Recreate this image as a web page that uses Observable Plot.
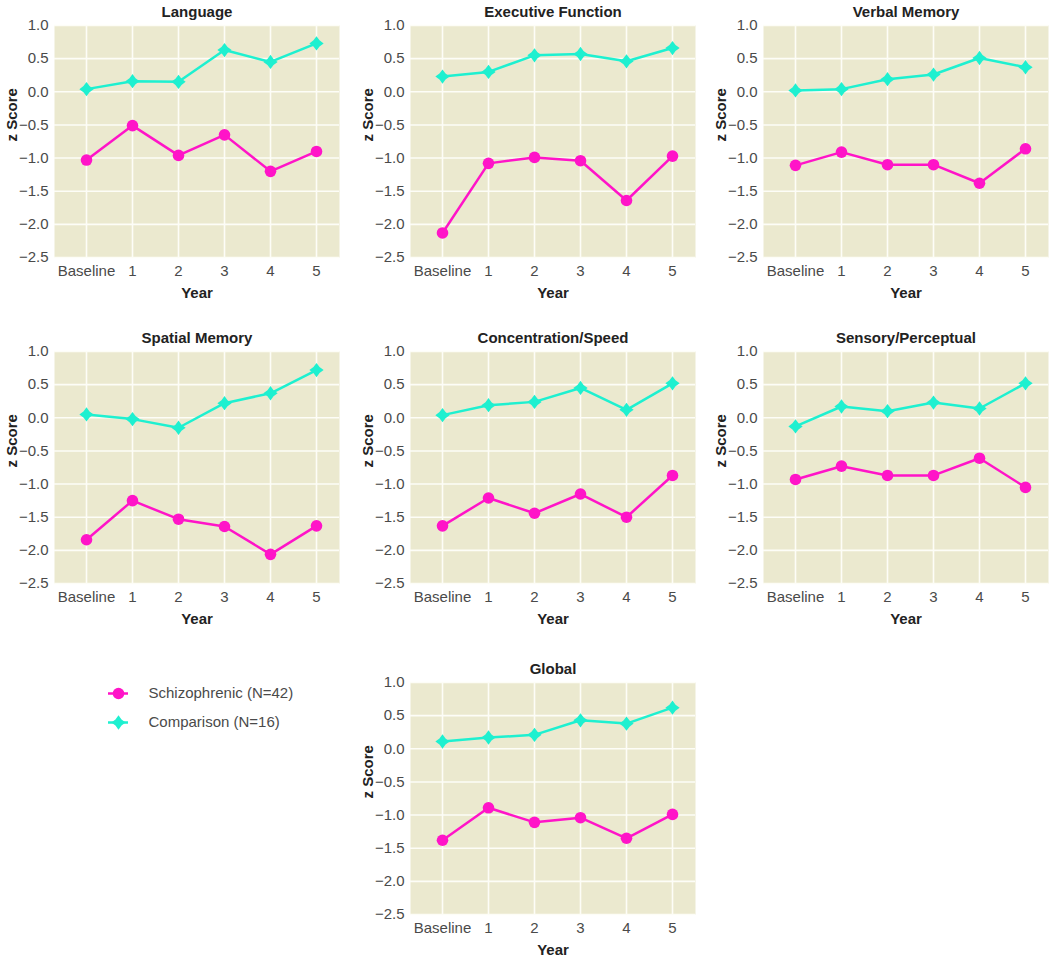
<!DOCTYPE html>
<html>
<head>
<meta charset="utf-8">
<script src="https://cdn.jsdelivr.net/npm/d3@7"></script>
<script src="https://cdn.jsdelivr.net/npm/@observablehq/plot@0.6"></script>
<style>
  html, body { margin: 0; padding: 0; background: #ffffff; }
  #root { position: relative; width: 1050px; height: 963px; overflow: hidden; font-family: "Liberation Sans", Arial, sans-serif; }
  .panel { position: absolute; width: 345px; }
  .panel svg { max-width: none !important; }
</style>
</head>
<body>
<div id="root"></div>
<script>
// ---------- data ----------
const years = ["Baseline", "1", "2", "3", "4", "5"];
const yTicks = [-2.5, -2.0, -1.5, -1.0, -0.5, 0.0, 0.5, 1.0];
const groups = ["Schizophrenic (N=42)", "Comparison (N=16)"];

const titles = ["Language", "Executive Function", "Verbal Memory", "Spatial Memory",
                "Concentration/Speed", "Sensory/Perceptual", "Global"];

const languageSchiz      = [-1.03, -0.51, -0.96, -0.65, -1.20, -0.90];
const languageComp       = [ 0.04,  0.16,  0.15,  0.63,  0.45,  0.73];
const executiveSchiz     = [-2.13, -1.08, -0.99, -1.04, -1.64, -0.97];
const executiveComp      = [ 0.23,  0.30,  0.55,  0.57,  0.46,  0.66];
const verbalSchiz        = [-1.11, -0.91, -1.10, -1.10, -1.38, -0.86];
const verbalComp         = [ 0.02,  0.04,  0.19,  0.26,  0.51,  0.37];
const spatialSchiz       = [-1.84, -1.25, -1.53, -1.64, -2.06, -1.63];
const spatialComp        = [ 0.05, -0.02, -0.15,  0.22,  0.37,  0.72];
const concentrationSchiz = [-1.63, -1.21, -1.44, -1.15, -1.50, -0.87];
const concentrationComp  = [ 0.04,  0.19,  0.24,  0.45,  0.12,  0.52];
const sensorySchiz       = [-0.93, -0.73, -0.87, -0.87, -0.61, -1.05];
const sensoryComp        = [-0.13,  0.17,  0.10,  0.23,  0.14,  0.52];
const globalSchiz        = [-1.38, -0.89, -1.11, -1.04, -1.35, -0.99];
const globalComp         = [ 0.11,  0.17,  0.21,  0.43,  0.38,  0.62];

const schizSeries = [languageSchiz, executiveSchiz, verbalSchiz, spatialSchiz, concentrationSchiz, sensorySchiz, globalSchiz];
const compSeries  = [languageComp, executiveComp, verbalComp, spatialComp, concentrationComp, sensoryComp, globalComp];

// ---------- style ----------
const MAGENTA = "#ff14c8";
const CYAN = "#1ef0d0";
const BG = "#ebe9cf";
const GRID = "#fdfdf7";
const FONT = "'Liberation Sans', Arial, Helvetica, sans-serif";

// four-pointed (chunky) star symbol
const star4 = {
  draw(ctx, size) {
    const R = Math.sqrt(size / Math.PI) * 1.3;
    const r = R * 0.6;
    for (let i = 0; i < 8; i++) {
      const a = i * Math.PI / 4 - Math.PI / 2;
      const rad = i % 2 ? r : R;
      const px = rad * Math.cos(a), py = rad * Math.sin(a);
      if (i === 0) ctx.moveTo(px, py); else ctx.lineTo(px, py);
    }
    ctx.closePath();
  }
};

function panel(title, schiz, comp) {
  const rows = years.map((y, i) => ({year: y, schiz: schiz[i], comp: comp[i]}));
  return Plot.plot({
    width: 345, height: 302,
    marginLeft: 54, marginRight: 6, marginTop: 25, marginBottom: 45,
    style: {fontFamily: FONT, fontSize: "15px", color: "#4a4a4a", background: "transparent", overflow: "visible"},
    x: {type: "point", domain: years, padding: 0.4, insetLeft: 11, insetRight: 2, label: null, tickSize: 0, tickPadding: 8},
    y: {domain: [-2.5, 1], ticks: yTicks, tickFormat: d3.format(".1f"), tickSize: 0, tickPadding: 6, label: null},
    marks: [
      Plot.frame({fill: BG, stroke: "none"}),
      Plot.ruleY(yTicks, {stroke: GRID, strokeWidth: 1.6}),
      Plot.ruleX(years, {stroke: GRID, strokeWidth: 1.6}),
      Plot.line(rows, {x: "year", y: "comp", stroke: CYAN, strokeWidth: 2.5}),
      Plot.dot(rows, {x: "year", y: "comp", fill: CYAN, symbol: star4, r: 5.5}),
      Plot.line(rows, {x: "year", y: "schiz", stroke: MAGENTA, strokeWidth: 2.5}),
      Plot.dot(rows, {x: "year", y: "schiz", fill: MAGENTA, r: 5.8}),
      Plot.text([title], {frameAnchor: "top", dy: -13, lineAnchor: "middle", fontWeight: "bold", fill: "#222", fontSize: 15}),
      Plot.text(["Year"], {frameAnchor: "bottom", dy: 36, lineAnchor: "middle", fontWeight: "bold", fill: "#222", fontSize: 15}),
      Plot.text(["z Score"], {frameAnchor: "left", dx: -42, rotate: -90, lineAnchor: "middle", fontWeight: "bold", fill: "#222", fontSize: 15})
    ]
  });
}

const root = document.getElementById("root");
const colLefts = [0, 356, 709];
const rowTops = [0, 326, 657];
const slots = [[0,0],[0,1],[0,2],[1,0],[1,1],[1,2],[2,1]];

titles.forEach((t, i) => {
  const div = document.createElement("div");
  div.className = "panel";
  div.style.left = colLefts[slots[i][1]] + "px";
  div.style.top = rowTops[slots[i][0]] + "px";
  div.appendChild(panel(t, schizSeries[i], compSeries[i]));
  root.appendChild(div);
});

// legend
const legend = Plot.plot({
  width: 240, height: 70,
  marginLeft: 18, marginRight: 202, marginTop: 23, marginBottom: 18,
  style: {fontFamily: FONT, fontSize: "15px", color: "#4a4a4a", background: "transparent", overflow: "visible"},
  y: {type: "point", domain: groups, padding: 0, axis: null},
  marks: [
    Plot.tickY([groups[0]], {y: d => d, stroke: MAGENTA, strokeWidth: 2.5}),
    Plot.dot([groups[0]], {y: d => d, frameAnchor: "middle", fill: MAGENTA, r: 5.8}),
    Plot.tickY([groups[1]], {y: d => d, stroke: CYAN, strokeWidth: 2.5}),
    Plot.dot([groups[1]], {y: d => d, frameAnchor: "middle", fill: CYAN, symbol: star4, r: 5.5}),
    Plot.text(groups, {y: d => d, frameAnchor: "right", textAnchor: "start", dx: 20, lineAnchor: "middle", fill: "#4a4a4a", fontSize: 15})
  ]
});
const ldiv = document.createElement("div");
ldiv.className = "panel";
ldiv.style.width = "240px";
ldiv.style.left = "90px";
ldiv.style.top = "670px";
ldiv.appendChild(legend);
root.appendChild(ldiv);
</script>
</body>
</html>
